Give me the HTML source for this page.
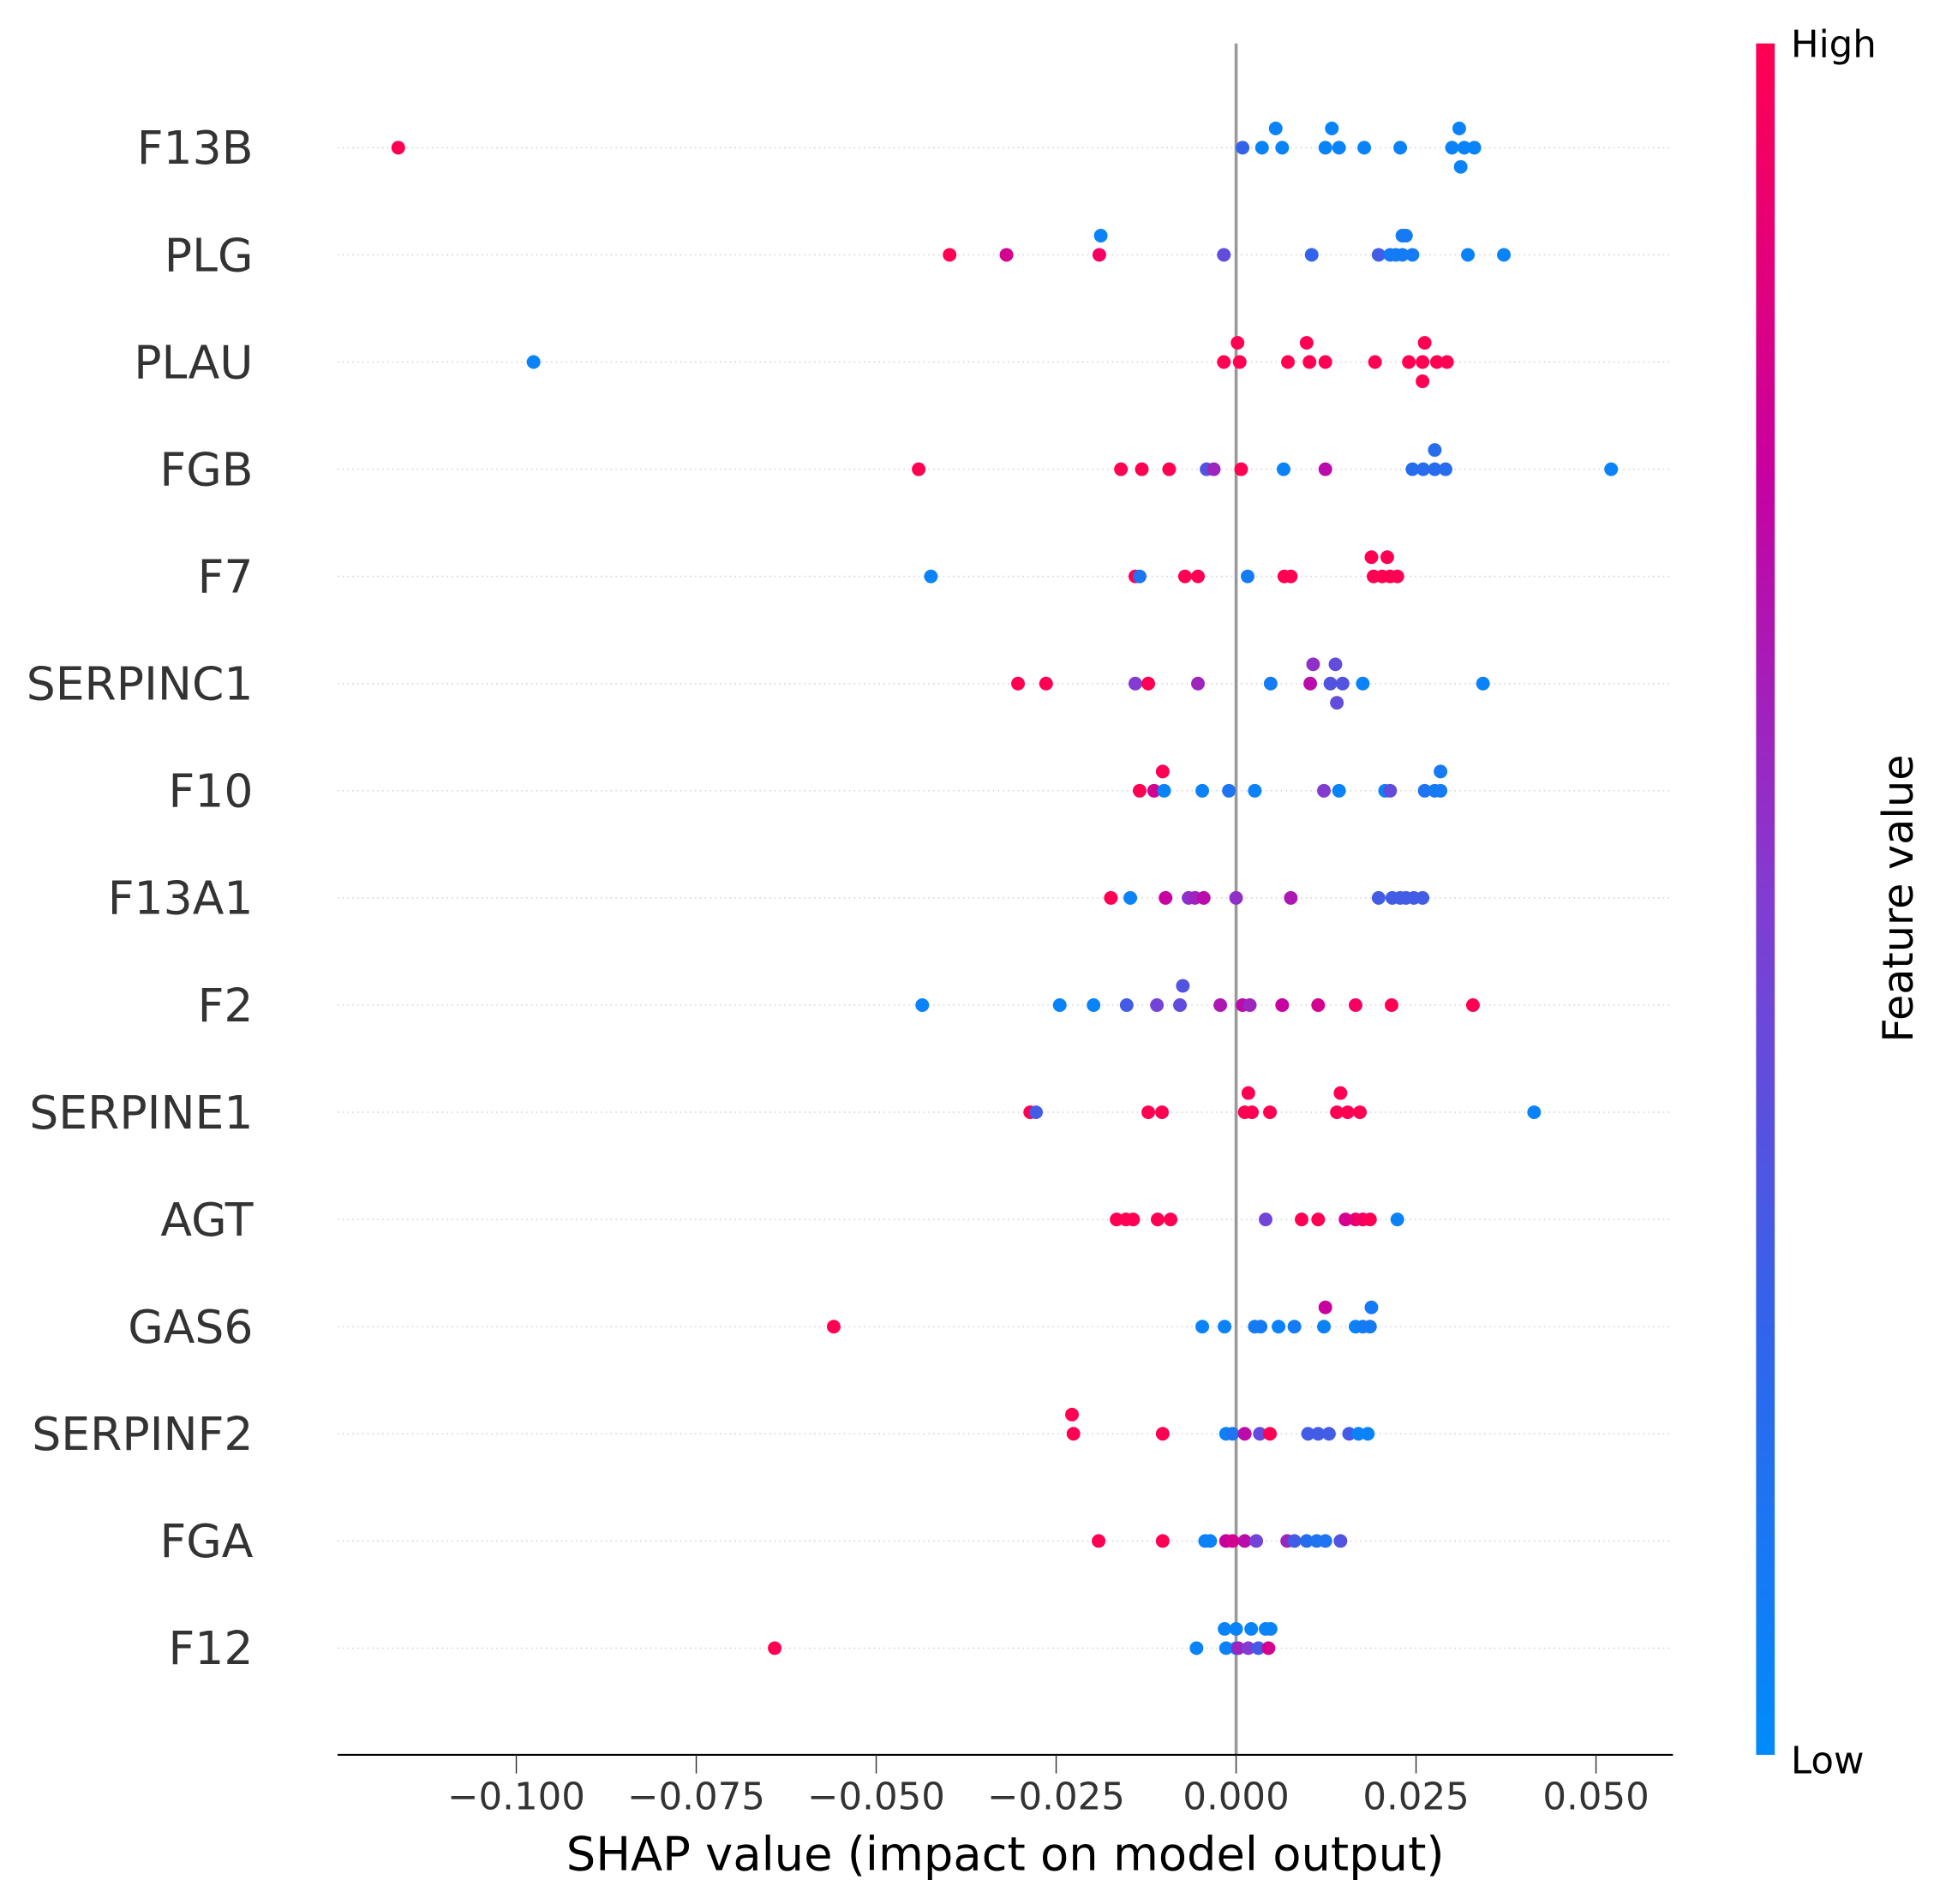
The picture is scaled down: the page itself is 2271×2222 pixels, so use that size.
<!DOCTYPE html>
<html><head><meta charset="utf-8"><style>
html,body{margin:0;padding:0;background:#fff;}
svg{display:block;font-family:"DejaVu Sans","Liberation Sans",sans-serif;}
</style></head><body>
<svg id="chart" width="2271" height="2222" viewBox="0 0 1568 1534.2" xmlns="http://www.w3.org/2000/svg">
<defs><linearGradient id="cbg" x1="0" y1="1" x2="0" y2="0">
<stop offset="0" stop-color="#008bfb"/><stop offset="0.25" stop-color="#3264eb"/><stop offset="0.5" stop-color="#823cd2"/><stop offset="0.75" stop-color="#c800a0"/><stop offset="1" stop-color="#ff0052"/></linearGradient></defs>
<g id="grid"></g>
<line x1="996" y1="35" x2="996" y2="1414" stroke="#999" stroke-width="2.5"/>
<g id="dots"></g>
<g id="labels"></g>
<line x1="272" y1="1414" x2="1348" y2="1414" stroke="#000" stroke-width="1.5"/>
<g id="ticks"></g>
<text x="810" y="1507" font-size="37.5" text-anchor="middle" fill="#000">SHAP value (impact on model output)</text>
<rect x="1415" y="35" width="15" height="1379" fill="url(#cbg)"/>
<text x="1443" y="46" font-size="30" fill="#000">High</text>
<text x="1443" y="1429" font-size="30" fill="#000">Low</text>
<text transform="translate(1541,724) rotate(-90)" font-size="34" text-anchor="middle" fill="#000">Feature value</text>
</svg>
<script>
const features=["F13B","PLG","PLAU","FGB","F7","SERPINC1","F10","F13A1","F2","SERPINE1","AGT","GAS6","SERPINF2","FGA","F12"];
const tickValues=[-0.1,-0.075,-0.05,-0.025,0,0.025,0.05];
const tickLabels=["\u22120.100","\u22120.075","\u22120.050","\u22120.025","0.000","0.025","0.050"];
// each point: [shap, stackLevel, featureValue]
const s0=[[-0.1164,0,1],[0.0055,-1,0.05],[0.0133,-1,0.05],[0.031,-1,0.05],[0.0009,0,0.25],[0.0036,0,0.05],[0.0064,0,0.05],[0.0124,0,0.05],[0.0143,0,0.05],[0.0178,0,0.05],[0.0228,0,0.05],[0.030,0,0.05],[0.0317,0,0.05],[0.0331,0,0.05],[0.0312,1,0.05]];
const s1=[[-0.0188,-1,0.05],[0.0231,-1,0.1],[0.0236,-1,0.1],[-0.0398,0,1],[-0.0319,0,0.8],[-0.019,0,0.95],[-0.0017,0,0.4],[0.0105,0,0.25],[0.0198,0,0.3],[0.0214,0,0.1],[0.0222,0,0.1],[0.0231,0,0.1],[0.0245,0,0.1],[0.0322,0,0.05],[0.0372,0,0.05]];
const s2=[[0.0002,-1,1],[0.0098,-1,1],[0.0262,-1,1],[-0.0976,0,0.05],[-0.0017,0,1],[0.0005,0,1],[0.0072,0,1],[0.0102,0,1],[0.0124,0,1],[0.0193,0,1],[0.024,0,1],[0.0259,0,1],[0.0279,0,1],[0.0293,0,1],[0.0259,1,1]];
const s3=[[0.0276,-1,0.2],[-0.0441,0,1],[-0.016,0,1],[-0.0131,0,1],[-0.0093,0,1],[-0.0041,0,0.35],[-0.0031,0,0.6],[0.0007,0,1],[0.0066,0,0.05],[0.0124,0,0.7],[0.0245,0,0.2],[0.026,0,0.2],[0.0276,0,0.2],[0.0291,0,0.2],[0.0521,0,0.05]];
const s4=[[0.0188,-1,1],[0.021,-1,1],[-0.0424,0,0.05],[-0.014,0,1],[-0.0134,0,0.15],[-0.0071,0,1],[-0.0053,0,1],[0.0016,0,0.1],[0.0067,0,1],[0.0076,0,1],[0.0191,0,1],[0.0203,0,1],[0.0214,0,1],[0.0224,0,1]];
const s5=[[0.0107,-1,0.55],[0.0138,-1,0.4],[-0.0303,0,1],[-0.0264,0,1],[-0.014,0,0.5],[-0.0122,0,1],[-0.0053,0,0.6],[0.0048,0,0.1],[0.0103,0,0.7],[0.0131,0,0.35],[0.0148,0,0.35],[0.0176,0,0.05],[0.0343,0,0.05],[0.014,1,0.4]];
const s6=[[-0.0102,-1,1],[0.0284,-1,0.1],[-0.0134,0,1],[-0.0114,0,0.8],[-0.01,0,0.05],[-0.0047,0,0.05],[-0.001,0,0.15],[0.0026,0,0.05],[0.0122,0,0.5],[0.0143,0,0.05],[0.0207,0,0.05],[0.0214,0,0.4],[0.0262,0,0.15],[0.0276,0,0.1],[0.0284,0,0.1]];
const s7=[[-0.0174,0,1],[-0.0147,0,0.05],[-0.0098,0,0.75],[-0.0066,0,0.55],[-0.0057,0,0.6],[-0.0045,0,0.7],[0,0,0.55],[0.0076,0,0.65],[0.0198,0,0.3],[0.0217,0,0.3],[0.0228,0,0.3],[0.0236,0,0.3],[0.0247,0,0.3],[0.0259,0,0.3]];
const s8=[[-0.0074,-1,0.35],[-0.0436,0,0.05],[-0.0245,0,0.05],[-0.0198,0,0.05],[-0.0152,0,0.3],[-0.011,0,0.45],[-0.0078,0,0.4],[-0.0022,0,0.65],[0.0009,0,0.7],[0.0019,0,0.6],[0.0064,0,0.75],[0.0114,0,0.8],[0.0166,0,0.95],[0.0216,0,1],[0.0329,0,1]];
const s9=[[0.0017,-1,1],[0.0145,-1,1],[-0.0286,0,1],[-0.0278,0,0.3],[-0.0122,0,1],[-0.0103,0,1],[0.0012,0,1],[0.0022,0,1],[0.0047,0,1],[0.014,0,1],[0.0155,0,1],[0.0172,0,1],[0.0414,0,0.05]];
const s10=[[-0.0166,0,1],[-0.0153,0,1],[-0.0143,0,1],[-0.0109,0,1],[-0.0091,0,1],[0.0041,0,0.45],[0.0091,0,1],[0.0114,0,1],[0.0152,0,0.8],[0.0166,0,0.9],[0.0176,0,0.95],[0.0186,0,1],[0.0224,0,0.05]];
const s11=[[0.0124,-1,0.75],[0.0188,-1,0.1],[-0.0559,0,1],[-0.0047,0,0.05],[-0.0016,0,0.05],[0.0026,0,0.1],[0.0034,0,0.1],[0.0059,0,0.05],[0.0081,0,0.1],[0.0122,0,0.05],[0.0166,0,0.05],[0.0176,0,0.1],[0.0186,0,0.1]];
const s12=[[-0.0228,-1,1],[-0.0226,0,1],[-0.0102,0,1],[-0.0014,0,0.05],[-0.0005,0,0.15],[0.0012,0,0.7],[0.0033,0,0.4],[0.0047,0,1],[0.01,0,0.3],[0.0114,0,0.3],[0.0129,0,0.3],[0.0157,0,0.3],[0.017,0,0.05],[0.0183,0,0.05]];
const s13=[[-0.0191,0,1],[-0.0102,0,1],[-0.0043,0,0.05],[-0.0036,0,0.05],[-0.0014,0,0.75],[-0.0005,0,0.8],[0.0012,0,0.7],[0.0028,0,0.45],[0.0071,0,0.6],[0.0081,0,0.3],[0.0098,0,0.2],[0.0112,0,0.15],[0.0124,0,0.15],[0.0145,0,0.35]];
const s14=[[-0.0016,-1,0.05],[0,-1,0.05],[0.0021,-1,0.05],[0.0041,-1,0.05],[0.0048,-1,0.05],[-0.0641,0,1],[-0.0055,0,0.05],[-0.0014,0,0.05],[0,0,0.1],[0.0003,0,0.6],[0.0017,0,0.5],[0.0031,0,0.3],[0.0045,0,0.8]];
const series=[s0,s1,s2,s3,s4,s5,s6,s7,s8,s9,s10,s11,s12,s13,s14];

const NS="http://www.w3.org/2000/svg";
function xs(v){return 996+v*5800;}
function ys(i){return 119+i*86.36;}
const stops=[[0,[0,139,251]],[0.25,[50,100,235]],[0.5,[130,60,210]],[0.75,[200,0,160]],[1,[255,0,82]]];
function col(t){for(let k=0;k<stops.length-1;k++){const a=stops[k],b=stops[k+1];if(t<=b[0]){const f=(t-a[0])/(b[0]-a[0]);return "rgb("+a[1].map((c,j)=>Math.round(c+(b[1][j]-c)*f)).join(",")+")";}}return "rgb(255,0,82)";}
const grid=document.getElementById('grid'),dots=document.getElementById('dots'),labels=document.getElementById('labels'),ticks=document.getElementById('ticks');
features.forEach((f,i)=>{
  const y=ys(i);
  const l=document.createElementNS(NS,'line');
  
  
  l.setAttribute('x1',272);l.setAttribute('x2',1346);l.setAttribute('y1',y);l.setAttribute('y2',y);
  l.setAttribute('stroke','#ccc');l.setAttribute('stroke-width','1');l.setAttribute('stroke-dasharray','1 3');
  grid.appendChild(l);
  const t=document.createElementNS(NS,'text');
  
  
  t.setAttribute('x',204);t.setAttribute('y',y+13);t.setAttribute('font-size','37');t.setAttribute('text-anchor','end');t.setAttribute('fill','#333');
  t.textContent=f;labels.appendChild(t);
  series[i].forEach(p=>{
    const c=document.createElementNS(NS,'circle');
    
    
    c.setAttribute('cx',xs(p[0]));c.setAttribute('cy',y+p[1]*15.5);c.setAttribute('r',5.5);c.setAttribute('fill',col(p[2]));
    dots.appendChild(c);
  });
});
tickValues.forEach((v,i)=>{
  const x=xs(v);
  const l=document.createElementNS(NS,'line');
  
  
  l.setAttribute('x1',x);l.setAttribute('x2',x);l.setAttribute('y1',1414);l.setAttribute('y2',1429);l.setAttribute('stroke','#333');l.setAttribute('stroke-width','1');
  ticks.appendChild(l);
  const t=document.createElementNS(NS,'text');
  
  
  t.setAttribute('x',x);t.setAttribute('y',1458);t.setAttribute('font-size','30');t.setAttribute('text-anchor','middle');t.setAttribute('fill','#333');
  t.textContent=tickLabels[i];ticks.appendChild(t);
});
</script>
</body></html>
